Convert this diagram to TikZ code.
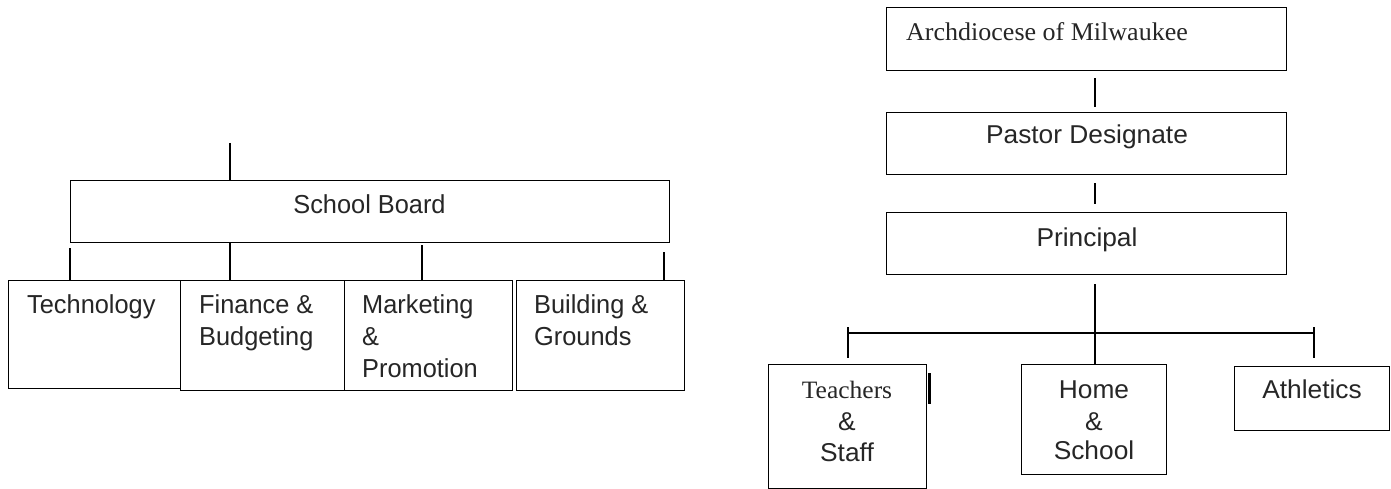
\documentclass[tikz,border=0pt]{standalone}
\usepackage{fontspec}
\usetikzlibrary{calc}
\newfontfamily\lsans[FakeStretch=0.975]{Liberation Sans}
\newfontfamily\rsans[FakeStretch=1.02]{Liberation Sans}
\newfontfamily\rserif[FakeStretch=1.02]{Liberation Serif}
\begin{document}
\begin{tikzpicture}[x=1pt,y=-1pt,
  box/.style={draw=black, line width=1.4pt, inner sep=0pt, anchor=north west},
  conn/.style={draw=black, line width=1.4pt},
  ltxt/.style={inner sep=0pt, anchor=base west, text=black!85, font=\lsans\fontsize{26}{30}\selectfont},
  ltxtc/.style={ltxt, anchor=base},
  rtxt/.style={inner sep=0pt, anchor=base, text=black!85, font=\rsans\fontsize{25.8}{30}\selectfont},
  rser/.style={inner sep=0pt, anchor=base, text=black!85, font=\rserif\fontsize{25.5}{30}\selectfont},
]
\useasboundingbox (0,0) rectangle (1391,489);
\fill[white] (0,0) rectangle (1391,489);

% ---------- left chart ----------
\node[box, minimum width=599pt, minimum height=62pt] (board) at (70,180) {};
\node[box, minimum width=172pt, minimum height=108pt] (tech) at (8,280) {};
\node[box, minimum width=164pt, minimum height=110pt] (fin) at (180,280) {};
\node[box, minimum width=168pt, minimum height=110pt] (mkt) at (344,280) {};
\node[box, minimum width=168pt, minimum height=110pt] (bld) at (516,280) {};

\coordinate (lx1) at (230,143);
\coordinate (lx3) at (422,245);
\coordinate (lx4) at (664,252);
\draw[conn] (lx1) -- (lx1 |- board.north);
\draw[conn] ($(board.south west)+(0,5)$) -- (tech.north -| board.south west);
\draw[conn] (lx1 |- board.south) -- (lx1 |- fin.north);
\draw[conn] (lx3) -- (lx3 |- mkt.north);
\draw[conn] (lx4) -- (lx4 |- bld.north);

\node[ltxtc] (tsb) at (369.5,213) {School Board};
\node[ltxt] (tt1) at (27,313) {Technology};
\node[ltxt] (tf1) at (199,313) {Finance \&};
\node[ltxt] (tf2) at (199,345) {Budgeting};
\node[ltxt] (tm1) at (362,313) {Marketing};
\node[ltxt] (tm2) at (362,345) {\&};
\node[ltxt] (tm3) at (362,377) {Promotion};
\node[ltxt] (tb1) at (534,313) {Building \&};
\node[ltxt] (tb2) at (534,345) {Grounds};

% ---------- right chart ----------
\node[box, minimum width=400pt, minimum height=63pt] (arch) at (886,7) {};
\node[box, minimum width=400pt, minimum height=62pt] (pastor) at (886,112) {};
\node[box, minimum width=400pt, minimum height=62pt] (prin) at (886,212) {};
\node[box, minimum width=158pt, minimum height=124pt] (teach) at (768,364) {};
\node[box, minimum width=145pt, minimum height=110pt] (home) at (1021,364) {};
\node[box, minimum width=155pt, minimum height=64pt] (ath) at (1234,366) {};

\coordinate (rx) at (1095,0);
\coordinate (bl) at (848,333);
\coordinate (br) at (1314,333);
\draw[conn] ($(arch.south -| rx)+(0,7)$) -- ($(pastor.north -| rx)+(0,-5)$);
\draw[conn] ($(pastor.south -| rx)+(0,8)$) -- ($(prin.north -| rx)+(0,-8)$);
\draw[conn] ($(prin.south -| rx)+(0,9)$) -- (home.north -| rx);
\draw[conn, line width=1.8pt] (bl) -- (br);
\draw[conn] ($(bl)+(0,-6)$) -- ($(teach.north -| bl)+(0,-6)$);
\draw[conn] ($(br)+(0,-6)$) -- ($(ath.north -| br)+(0,-8)$);
\draw[line width=3pt] ($(teach.north east)+(2,9)$) -- ($(teach.north east)+(2,40)$);

\node[rser, anchor=base west] (ta) at (906,41) {Archdiocese of Milwaukee};
\node[rtxt] (tp) at (1087,144) {Pastor Designate};
\node[rtxt] (tpr) at (1087,246) {Principal};
\node[rser, font=\rserif\fontsize{25}{30}\selectfont] (tt) at (847,398) {Teachers};
\node[rtxt] (tt2) at (847,430) {\&};
\node[rtxt] (tt3) at (847,461) {Staff};
\node[rtxt] (th1) at (1094,398) {Home};
\node[rtxt] (th2) at (1094,430) {\&};
\node[rtxt] (th3) at (1094,459) {School};
\node[rtxt] (tat) at (1312,398) {Athletics};
\end{tikzpicture}
\end{document}
